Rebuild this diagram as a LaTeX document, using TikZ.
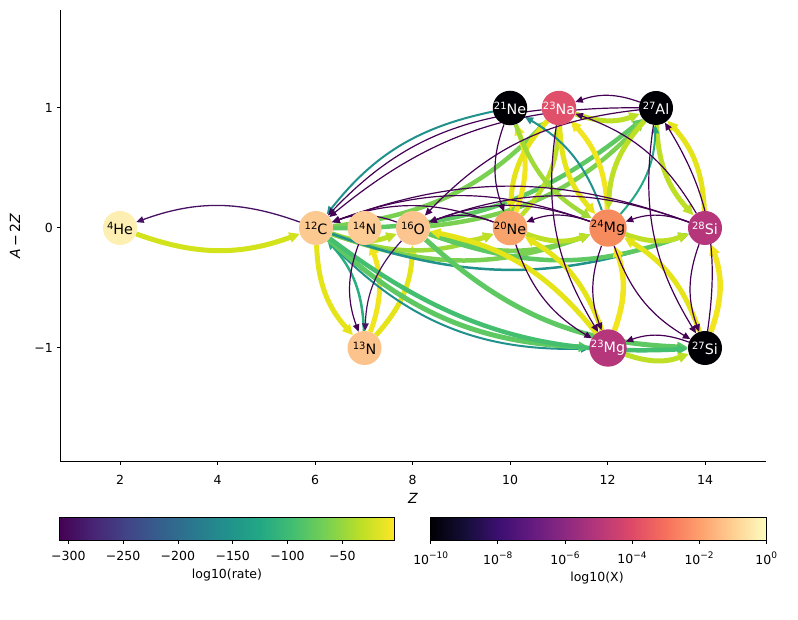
\documentclass[tikz,border=0pt]{standalone}
\usepackage{fontspec}
\setmainfont{DejaVu Sans}
\usetikzlibrary{arrows.meta}
\pgfdeclarelayer{back}
\pgfdeclarelayer{bg}
\pgfsetlayers{back,bg,main}
% viridis
\definecolor{v0}{HTML}{440154}\definecolor{v1}{HTML}{482475}\definecolor{v2}{HTML}{414487}
\definecolor{v3}{HTML}{355F8D}\definecolor{v4}{HTML}{2A788E}\definecolor{v5}{HTML}{21918C}
\definecolor{v6}{HTML}{22A884}\definecolor{v7}{HTML}{44BF70}\definecolor{v8}{HTML}{7AD151}
\definecolor{v9}{HTML}{BDDF26}\definecolor{v10}{HTML}{FDE725}
% magma
\definecolor{m0}{HTML}{000004}\definecolor{m1}{HTML}{140E36}\definecolor{m2}{HTML}{3B0F70}
\definecolor{m3}{HTML}{641A80}\definecolor{m4}{HTML}{8C2981}\definecolor{m5}{HTML}{B73779}
\definecolor{m6}{HTML}{DE4968}\definecolor{m7}{HTML}{F7705C}\definecolor{m8}{HTML}{FE9F6D}
\definecolor{m9}{HTML}{FECF92}\definecolor{m10}{HTML}{FCFDBF}
% edge colours
\definecolor{yA}{HTML}{D2E21B}\definecolor{yB}{HTML}{E5E419}\definecolor{yC}{HTML}{F1E51D}
\definecolor{ygA}{HTML}{BDDF26}\definecolor{ygB}{HTML}{A0DA39}
\definecolor{gA}{HTML}{7AD151}\definecolor{gB}{HTML}{5EC962}\definecolor{gC}{HTML}{44BF70}
\definecolor{gT}{HTML}{29AF7F}\definecolor{tA}{HTML}{21918C}\definecolor{tB}{HTML}{22A884}
\definecolor{pA}{HTML}{440154}\definecolor{pB}{HTML}{471164}
% node colours
\definecolor{cHe}{HTML}{FCEFB1}\definecolor{cC}{HTML}{FCCA91}\definecolor{cNf}{HTML}{FCCC94}
\definecolor{cO}{HTML}{FCC590}\definecolor{cNt}{HTML}{FCC38C}\definecolor{cNe}{HTML}{F8A36C}
\definecolor{cMg}{HTML}{F68B5E}\definecolor{cNa}{HTML}{E1506B}\definecolor{cSi}{HTML}{B5367A}
\definecolor{cBk}{HTML}{000004}
\pgfdeclarehorizontalshading{viridis}{100bp}{color(0bp)=(v0); color(25bp)=(v0); color(30bp)=(v1); color(35bp)=(v2); color(40bp)=(v3); color(45bp)=(v4); color(50bp)=(v5); color(55bp)=(v6); color(60bp)=(v7); color(65bp)=(v8); color(70bp)=(v9); color(75bp)=(v10); color(100bp)=(v10)}
\pgfdeclarehorizontalshading{magma}{100bp}{color(0bp)=(m0); color(25bp)=(m0); color(30bp)=(m1); color(35bp)=(m2); color(40bp)=(m3); color(45bp)=(m4); color(50bp)=(m5); color(55bp)=(m6); color(60bp)=(m7); color(65bp)=(m8); color(70bp)=(m9); color(75bp)=(m10); color(100bp)=(m10)}
\newcommand{\iso}[2]{{\fontsize{10}{10}\selectfont\raisebox{5pt}{#1}}#2}
\newcommand{\tpow}[1]{10{\fontsize{9}{9}\selectfont\raisebox{5.5pt}{#1}}}
\newcommand{\edg}[5][20]{\draw[e={#2}{#3}] (#4) to[bend right=#1] (#5);}
\tikzset{
  nuc/.style={circle, minimum size=34pt, inner sep=0pt, font=\fontsize{14.3}{14.3}\selectfont},
  e/.style 2 args={draw=#1, line width=#2pt, -{Triangle[length=6.5pt 0.8, width=5.5pt 0.9]}},
  ticklab/.style={font=\fontsize{12.5}{12.5}\selectfont, inner sep=0pt},
  axline/.style={line width=1pt, black}
}
\begin{document}
\begin{tikzpicture}[x=1pt,y=1pt]
\useasboundingbox (0,0) rectangle (798,619);
\begin{pgfonlayer}{back}
\fill[white] (0,0) rectangle (798,619);
\end{pgfonlayer}
% nodes
\node[nuc, fill=cHe] (he4) at (120,391) {\iso{4}{He}};
\node[nuc, fill=cC] (c12) at (316,391) {\iso{12}{C}};
\node[nuc, fill=cNf] (n14) at (364.5,391) {\iso{14}{N}};
\node[nuc, fill=cO] (o16) at (413,391) {\iso{16}{O}};
\node[nuc, fill=cNe] (ne20) at (510,391) {\iso{20}{Ne}};
\node[nuc, fill=cMg] (mg24) at (608,391) {\iso{24}{Mg}};
\node[nuc, fill=cSi, text=white] (si28) at (705,391) {\iso{28}{Si}};
\node[nuc, fill=cNt] (n13) at (364.5,271) {\iso{13}{N}};
\node[nuc, fill=cSi, text=white] (mg23) at (608,271) {\iso{23}{Mg}};
\node[nuc, fill=cBk, text=white] (si27) at (705,271) {\iso{27}{Si}};
\node[nuc, fill=cBk, text=white] (ne21) at (510,511) {\iso{21}{Ne}};
\node[nuc, fill=cNa, text=white] (na23) at (559,511) {\iso{23}{Na}};
\node[nuc, fill=cBk, text=white] (al27) at (656,511) {\iso{27}{Al}};
\begin{pgfonlayer}{bg}
% axes
\draw[axline] (60,609) -- (60,157) -- (766,157);
\foreach \z in {2,4,...,14} {
  \draw[axline] ({120+(\z-2)*48.75},157) -- ++(0,-3.5);
  \node[ticklab] at ({120+(\z-2)*48.75},139) {\z};
}
\foreach \v/\lab in {1/1,0/0,-1/−1} {
  \draw[axline] (60,{391+120*\v}) -- ++(-3.5,0);
  \node[ticklab, anchor=east] at (53,{391+120*\v}) {\lab};
}
\node[font=\fontsize{14}{14}\selectfont] at (413,121) {\itshape Z};
\node[font=\fontsize{14}{14}\selectfont, rotate=90] at (15,383) {{\itshape A}\,−\,2{\itshape Z}};
% thick edges
\edg{yA}{5}{he4}{c12}
\edg{yB}{5}{c12}{n13}
\edg{yC}{5}{n13}{n14}
\edg{yB}{5}{n13}{o16}
\edg{gT}{2.5}{n13}{c12}
\edg{ygA}{5}{c12}{o16}
\edg{ygB}{4.5}{c12}{ne20}
\edg{gA}{4.5}{c12}{mg24}
\edg{tA}{2.5}{c12}{si28}
\edg{ygA}{5}{o16}{ne20}
\edg{gA}{4.5}{o16}{mg24}
\edg{gB}{4.5}{o16}{si28}
\edg{ygA}{5}{ne20}{mg24}
\edg{ygA}{5}{mg24}{si28}
\edg{gA}{4.5}{c12}{na23}
\edg{gB}{4.5}{c12}{al27}
\edg{gA}{4.5}{o16}{al27}
\edg[24]{tA}{2}{c12}{mg23}
\edg{gB}{5}{c12}{mg23}
\edg{gB}{5}{o16}{si27}
\edg{gC}{4.5}{c12}{si27}
\edg{yB}{5}{mg23}{o16}
\edg{yB}{5}{mg23}{ne20}
\edg{yC}{5}{ne20}{ne21}
\edg{yB}{5}{na23}{ne20}
\edg{ygA}{4.5}{ne20}{na23}
\edg{yB}{5}{na23}{mg24}
\edg{yC}{5}{mg24}{na23}
\edg{ygB}{4.5}{ne21}{mg24}
\edg{ygA}{5}{al27}{mg24}
\edg{ygA}{5}{na23}{al27}
\edg{ygA}{5}{al27}{si28}
\edg{yB}{5}{si28}{al27}
\edg{yC}{5.5}{si27}{si28}
\edg{yC}{5.5}{mg23}{mg24}
\edg{yB}{5}{si27}{mg24}
\edg{ygA}{5}{mg23}{si27}
% teal edges
\edg{tA}{2}{ne21}{c12}
\edg{tA}{2}{mg24}{ne21}
\edg{tB}{2}{mg24}{al27}
% purple edges
\edg{pB}{1.3}{c12}{he4}
\edg{pA}{1.2}{n14}{n13}
\edg{pB}{1.2}{o16}{n13}
\edg{pA}{1.2}{o16}{c12}
\edg{pA}{1.2}{ne20}{c12}
\edg{pA}{1.2}{mg24}{c12}
\edg{pA}{1.2}{si28}{c12}
\edg{pA}{1.2}{ne20}{o16}
\edg{pA}{1.2}{mg24}{o16}
\edg{pA}{1.2}{si28}{o16}
\edg{pA}{1.2}{mg24}{ne20}
\edg{pA}{1.2}{si28}{mg24}
\edg{pA}{1.2}{ne21}{ne20}
\edg{pA}{1.2}{al27}{c12}
\edg{pA}{1.2}{na23}{c12}
\edg{pA}{1.2}{al27}{o16}
\edg{pA}{1.2}{al27}{na23}
\edg{pA}{1.2}{si27}{al27}
\edg{pA}{1.2}{al27}{si27}
\edg{pA}{1.2}{si28}{si27}
\edg{pA}{1.2}{mg24}{mg23}
\edg{pA}{1.2}{na23}{mg23}
\edg{pA}{1.2}{mg24}{si27}
\edg{pA}{1.2}{si27}{mg23}
\edg{pA}{1.2}{ne20}{mg23}
\edg{pA}{1.2}{si28}{na23}
% colorbars
\shade[shading=viridis] (59.5,79) rectangle (394.5,101.5);
\draw[line width=0.8pt] (59.5,79) rectangle (394.5,101.5);
\foreach \k/\lab in {0/−300,1/−250,2/−200,3/−150,4/−100,5/−50} {
  \draw[line width=0.8pt] ({68.3+54.8*\k},79) -- ++(0,-3.5);
  \node[ticklab] at ({68.3+54.8*\k},63) {\lab};
}
\node[ticklab] at (227,44) {log10(rate)};
\shade[shading=magma] (430.7,79) rectangle (766.3,101.5);
\draw[line width=0.8pt] (430.7,79) rectangle (766.3,101.5);
\foreach \k/\lab in {0/−10,1/−8,2/−6,3/−4,4/−2,5/0} {
  \draw[line width=0.8pt] ({430.7+67.1*\k},79) -- ++(0,-3.5);
  \node[ticklab] at ({430.7+67.1*\k},61) {\tpow{\lab}};
}
\node[ticklab] at (597,41) {log10(X)};
\end{pgfonlayer}
\end{tikzpicture}
\end{document}
